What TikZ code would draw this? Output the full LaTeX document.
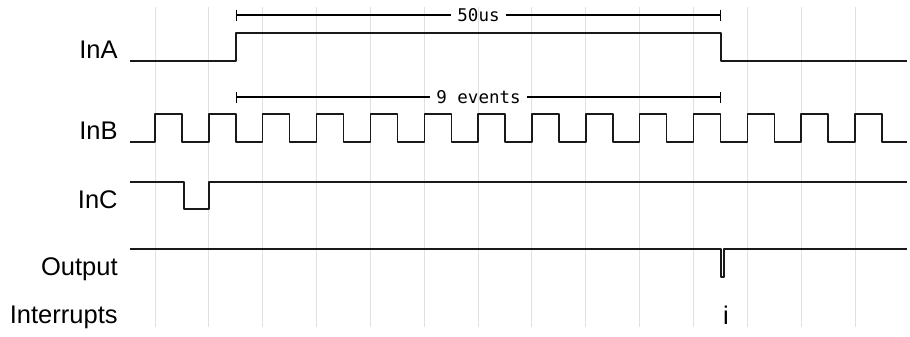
\documentclass[tikz,border=0pt]{standalone}
\usepackage{fontspec}
\setmainfont{Liberation Sans}
\newfontfamily\measfont{DejaVu Sans Mono}
\usetikzlibrary{arrows.meta, calc}

\begin{document}
\begin{tikzpicture}[x=0.5pt, y=-0.5pt,
    trace/.style={line width=0.75pt, black!90, line join=round},
    gridline/.style={line width=0.5pt, black!12},
    signame/.style={anchor=base east, inner sep=0pt, font=\fontsize{12.75}{15}\selectfont},
    meas/.style={line width=0.6pt},
    measlbl/.style={inner sep=3pt, font=\measfont\fontsize{8.75}{10}\selectfont}]
				\useasboundingbox (0,0) rectangle (910,337);
				% time grid
				\foreach \k in {0,...,13}
					\draw[gridline] ({155+53.85*\k},7) -- ({155+53.85*\k},327);
				% signal names
				\node[signame] (ina) at (118,58) {InA};
				\node[signame] (inb) at (118,139) {InB};
				\node[signame] (inc) at (118,208) {InC};
				\node[signame] (out) at (118,275) {Output};
				\node[signame] (irq) at (118,323) {Interrupts};
				\node[signame, anchor=base] (irq1) at (726,324) {i};
				% traces
				\draw[trace] (130,61) -- (236,61) -- (236,33) -- (721,33) -- (721,61) -- (907,61);
				\draw[trace] (130,142) \foreach \k in {0,...,13} {
						-- ({155+53.85*\k},142) -- ({155+53.85*\k},114)
						-- ({182+53.85*\k},114) -- ({182+53.85*\k},142) } -- (907,142);
				\draw[trace] (130,182) -- (184,182) -- (184,209) -- (209,209) -- (209,182) -- (907,182);
				\draw[trace] (130,249) -- (721,249) -- (721,277) -- (724,277) -- (724,249) -- (907,249);
				% measurements
				\coordinate (usa) at (236,15);
				\coordinate (usb) at (721,15);
				\node[measlbl] (us) at ($(usa)!0.5!(usb)$) {50us};
				\draw[meas, {Bar[width=5.5pt]}-] (usa) -- (us.west);
				\draw[meas, -{Bar[width=5.5pt]}] (us.east) -- (usb);
				\coordinate (eva) at (236,97);
				\coordinate (evb) at (721,97);
				\node[measlbl] (ev) at ($(eva)!0.5!(evb)$) {9 events};
				\draw[meas, {Bar[width=5.5pt]}-] (eva) -- (ev.west);
				\draw[meas, -{Bar[width=5.5pt]}] (ev.east) -- (evb);
			\end{tikzpicture}
\end{document}
